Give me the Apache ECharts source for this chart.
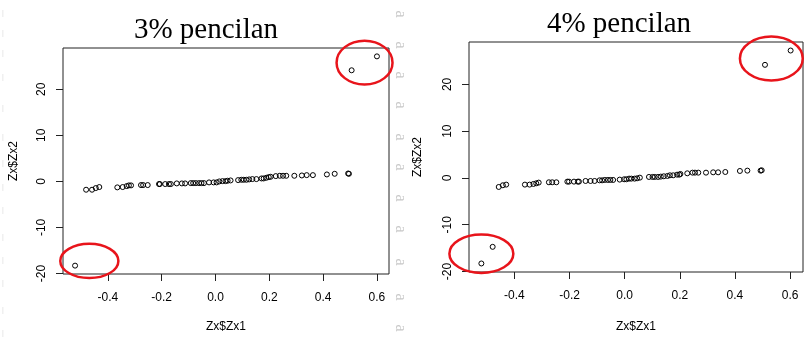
<!DOCTYPE html>
<html><head><meta charset="utf-8">
<script src="https://cdn.jsdelivr.net/npm/echarts@6/dist/echarts.min.js"></script>
<style>html,body{margin:0;padding:0;background:#fff}#c{width:807px;height:343px}</style>
</head><body><div id="c"></div>
<script>
const titles = ['3% pencilan', '4% pencilan'];
const xName = 'Zx$Zx1';
const yName = 'Zx$Zx2';
const xTicks = [-0.4, -0.2, 0, 0.2, 0.4, 0.6];
const yTicks = [-20, -10, 0, 10, 20];

const leftZx1 = [-0.481,-0.459,-0.445,-0.432,-0.365,-0.345,-0.330,-0.322,-0.314,-0.277,-0.269,-0.252,-0.210,-0.207,-0.187,-0.173,-0.166,-0.144,-0.125,-0.113,-0.092,-0.083,-0.073,-0.061,-0.052,-0.043,-0.024,-0.007,0.004,0.014,0.026,0.037,0.045,0.056,0.084,0.096,0.105,0.115,0.125,0.137,0.152,0.171,0.179,0.189,0.198,0.205,0.224,0.239,0.251,0.263,0.293,0.321,0.339,0.362,0.414,0.443,0.493,0.496,-0.522,0.506,0.600];
const leftZx2 = [-1.81,-1.81,-1.45,-1.23,-1.30,-1.23,-1.02,-0.87,-0.87,-0.80,-0.80,-0.80,-0.58,-0.58,-0.58,-0.58,-0.58,-0.44,-0.44,-0.44,-0.37,-0.37,-0.37,-0.37,-0.37,-0.37,-0.22,-0.22,-0.22,-0.01,0.06,0.06,0.14,0.21,0.28,0.35,0.35,0.35,0.43,0.50,0.50,0.64,0.64,0.79,0.93,1.00,1.15,1.22,1.22,1.22,1.22,1.29,1.36,1.36,1.51,1.65,1.72,1.65,-18.3,24.14,27.16];

const rightZx1 = [-0.457,-0.442,-0.430,-0.362,-0.345,-0.331,-0.321,-0.312,-0.275,-0.263,-0.248,-0.208,-0.202,-0.184,-0.170,-0.166,-0.142,-0.124,-0.109,-0.091,-0.082,-0.072,-0.061,-0.052,-0.042,-0.018,-0.002,0.006,0.016,0.024,0.036,0.045,0.055,0.088,0.101,0.109,0.121,0.131,0.142,0.155,0.164,0.176,0.190,0.198,0.202,0.227,0.246,0.255,0.267,0.295,0.321,0.339,0.365,0.418,0.445,0.493,0.497,-0.520,-0.479,0.509,0.602];
const rightZx2 = [-1.93,-1.57,-1.43,-1.43,-1.43,-1.29,-1.15,-1.00,-0.93,-0.93,-0.93,-0.79,-0.79,-0.79,-0.79,-0.79,-0.65,-0.65,-0.65,-0.51,-0.51,-0.43,-0.43,-0.43,-0.43,-0.36,-0.29,-0.29,-0.15,-0.15,-0.15,-0.08,0.06,0.21,0.21,0.21,0.21,0.28,0.35,0.42,0.56,0.56,0.70,0.70,0.85,0.99,1.13,1.13,1.13,1.13,1.20,1.20,1.27,1.49,1.56,1.56,1.63,-18.29,-14.73,24.18,27.24];

// outlier highlight ellipses: [centerZx1, centerZx2, radiusZx1, radiusZx2] in data units
const leftRings = [[0.554, 25.8, 0.104, 4.76], [-0.469, -17.28, 0.108, 3.72]];
const rightRings = [[0.532, 25.53, 0.114, 4.70], [-0.520, -16.2, 0.116, 4.10]];

function rRange(a) {
  const mn = Math.min(...a), mx = Math.max(...a), d = (mx - mn) * 0.04;
  return [mn - d, mx + d];
}
const zip = (a, b) => a.map((v, i) => [v, b[i]]);

const FONT = '"Liberation Sans", Arial, sans-serif';
const grids = [
  {left: 63, top: 48, width: 326, height: 226},
  {left: 469, top: 42, width: 334, height: 230}
];
const xGaps = [47, 49], yGaps = [43, 45];
const sets = [[leftZx1, leftZx2, leftRings], [rightZx1, rightZx2, rightRings]];

const option = {
  animation: false,
  backgroundColor: '#fff',
  grid: grids.map(g => Object.assign({show: true, borderColor: '#222', borderWidth: 1, backgroundColor: 'transparent'}, g)),
  xAxis: sets.map((s, i) => {
    const r = rRange(s[0]);
    return {
      type: 'value', gridIndex: i, min: r[0], max: r[1], position: 'bottom',
      name: xName, nameLocation: 'middle', nameGap: xGaps[i],
      nameTextStyle: {fontFamily: FONT, fontSize: 12, color: '#000'},
      axisLine: {show: false, onZero: false}, splitLine: {show: false},
      axisTick: {show: true, inside: false, length: 7, customValues: xTicks, lineStyle: {color: '#222'}},
      axisLabel: {customValues: xTicks, margin: 18, fontFamily: FONT, fontSize: 12, color: '#000',
        formatter: v => v.toFixed(1)}
    };
  }),
  yAxis: sets.map((s, i) => {
    const r = rRange(s[1]);
    return {
      type: 'value', gridIndex: i, min: r[0], max: r[1], position: 'left',
      name: yName, nameLocation: 'middle', nameGap: yGaps[i],
      nameTextStyle: {fontFamily: FONT, fontSize: 12, color: '#000'},
      axisLine: {show: false, onZero: false}, splitLine: {show: false},
      axisTick: {show: true, inside: false, length: 7, customValues: yTicks, lineStyle: {color: '#222'}},
      axisLabel: {customValues: yTicks, margin: 15, rotate: 90, fontFamily: FONT, fontSize: 12, color: '#000',
        formatter: v => String(Math.round(v))}
    };
  }),
  series: [],
  graphic: []
};

sets.forEach((s, i) => {
  option.series.push({
    type: 'scatter', xAxisIndex: i, yAxisIndex: i, data: zip(s[0], s[1]),
    symbol: 'circle', symbolSize: 5, silent: true,
    itemStyle: {color: 'rgba(0,0,0,0)', borderColor: '#000', borderWidth: 1, opacity: 1}
  });
  option.series.push({
    type: 'custom', xAxisIndex: i, yAxisIndex: i, data: s[2], clip: false, silent: true, z: 5,
    renderItem: (params, api) => {
      const c = api.coord([api.value(0), api.value(1)]);
      const sz = api.size([api.value(2), api.value(3)]);
      return {type: 'ellipse', shape: {cx: c[0], cy: c[1], rx: sz[0], ry: sz[1]},
        style: {fill: 'none', stroke: '#e8141b', lineWidth: 2.5}};
    }
  });
});

// titles
option.graphic.push({type: 'text', x: 206, y: 30, style: {text: titles[0], font: '29px "Liberation Serif", "Times New Roman", serif', fill: '#000', align: 'center', verticalAlign: 'middle'}});
option.graphic.push({type: 'text', x: 619, y: 24, style: {text: titles[1], font: '29px "Liberation Serif", "Times New Roman", serif', fill: '#000', align: 'center', verticalAlign: 'middle'}});

// faint scan marks between the plots
[14, 45, 75, 105, 137, 167, 198, 229, 262, 297, 328].forEach(y => {
  option.graphic.push({type: 'text', x: 400, y: y, rotation: -Math.PI / 2,
    style: {text: 'a', font: '16px "Liberation Serif", serif', fill: '#c8c8c8', align: 'center', verticalAlign: 'middle'}});
});
[13, 33, 53, 77, 108, 137, 163, 187, 210, 237, 260, 283, 310, 333].forEach(y => {
  option.graphic.push({type: 'text', x: 3, y: y,
    style: {text: '|', font: '7px "Liberation Sans", sans-serif', fill: '#dcdcdc', align: 'center', verticalAlign: 'middle'}});
});

const chart = echarts.init(document.getElementById('c'), null, {renderer: 'canvas'});
chart.setOption(option);
</script></body></html>
